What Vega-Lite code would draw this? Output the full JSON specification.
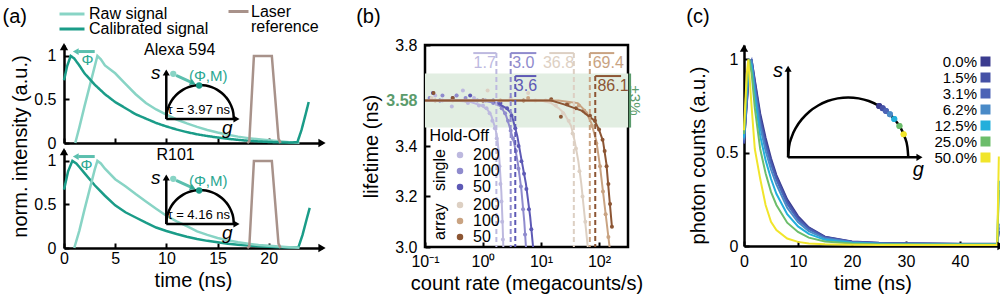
{
"$schema": "https://vega.github.io/schema/vega-lite/v6.json",
"padding": {"left": 2, "top": 0, "right": 0, "bottom": 0},
"bounds": "flush",
"spacing": 361,
"config": {
  "font": "Liberation Sans",
  "view": {"stroke": null},
  "axis": {"grid": false, "domainColor": "black", "domainWidth": 2.5, "tickColor": "black", "tickWidth": 2, "tickSize": -5, "labelColor": "black", "labelFontSize": 16, "titleColor": "black", "titleFontSize": 20, "titleFontWeight": "normal", "labelFlush": false, "labelPadding": 12},
  "legend": {"labelFontSize": 16, "labelColor": "black", "padding": 0}
},
"resolve": {"scale": {"color": "independent", "fill": "independent", "stroke": "independent", "strokeDash": "independent"}, "legend": {"color": "independent", "fill": "independent", "stroke": "independent", "strokeDash": "independent"}},
"datasets": {
  "sigA": [
    {"dye":"Alexa 594","signal":"Calibrated signal","t":0,"v":0.72},{"dye":"Alexa 594","signal":"Calibrated signal","t":0.3,"v":0.88},{"dye":"Alexa 594","signal":"Calibrated signal","t":0.65,"v":1.0},{"dye":"Alexa 594","signal":"Calibrated signal","t":1,"v":0.97},{"dye":"Alexa 594","signal":"Calibrated signal","t":1.5,"v":0.89},{"dye":"Alexa 594","signal":"Calibrated signal","t":2,"v":0.8},{"dye":"Alexa 594","signal":"Calibrated signal","t":3,"v":0.67},{"dye":"Alexa 594","signal":"Calibrated signal","t":4,"v":0.56},{"dye":"Alexa 594","signal":"Calibrated signal","t":5,"v":0.47},{"dye":"Alexa 594","signal":"Calibrated signal","t":6,"v":0.4},{"dye":"Alexa 594","signal":"Calibrated signal","t":7,"v":0.33},{"dye":"Alexa 594","signal":"Calibrated signal","t":8,"v":0.28},{"dye":"Alexa 594","signal":"Calibrated signal","t":9,"v":0.23},{"dye":"Alexa 594","signal":"Calibrated signal","t":10,"v":0.19},{"dye":"Alexa 594","signal":"Calibrated signal","t":11,"v":0.155},{"dye":"Alexa 594","signal":"Calibrated signal","t":12,"v":0.125},{"dye":"Alexa 594","signal":"Calibrated signal","t":13,"v":0.1},{"dye":"Alexa 594","signal":"Calibrated signal","t":14,"v":0.08},{"dye":"Alexa 594","signal":"Calibrated signal","t":15,"v":0.063},{"dye":"Alexa 594","signal":"Calibrated signal","t":16,"v":0.048},{"dye":"Alexa 594","signal":"Calibrated signal","t":17,"v":0.036},{"dye":"Alexa 594","signal":"Calibrated signal","t":18,"v":0.026},{"dye":"Alexa 594","signal":"Calibrated signal","t":19,"v":0.018},{"dye":"Alexa 594","signal":"Calibrated signal","t":20,"v":0.012},{"dye":"Alexa 594","signal":"Calibrated signal","t":21,"v":0.007},{"dye":"Alexa 594","signal":"Calibrated signal","t":22,"v":0.004},{"dye":"Alexa 594","signal":"Calibrated signal","t":22.8,"v":0.01},{"dye":"Alexa 594","signal":"Calibrated signal","t":23.2,"v":0.15},{"dye":"Alexa 594","signal":"Calibrated signal","t":23.6,"v":0.33},{"dye":"Alexa 594","signal":"Calibrated signal","t":23.9,"v":0.47},
    {"dye":"Alexa 594","signal":"Raw signal","t":1.1,"v":0},{"dye":"Alexa 594","signal":"Raw signal","t":1.5,"v":0.18},{"dye":"Alexa 594","signal":"Raw signal","t":2,"v":0.42},{"dye":"Alexa 594","signal":"Raw signal","t":2.5,"v":0.65},{"dye":"Alexa 594","signal":"Raw signal","t":3,"v":0.88},{"dye":"Alexa 594","signal":"Raw signal","t":3.26,"v":1.0},{"dye":"Alexa 594","signal":"Raw signal","t":3.6,"v":0.96},{"dye":"Alexa 594","signal":"Raw signal","t":4,"v":0.89},{"dye":"Alexa 594","signal":"Raw signal","t":5,"v":0.8},{"dye":"Alexa 594","signal":"Raw signal","t":6,"v":0.68},{"dye":"Alexa 594","signal":"Raw signal","t":7,"v":0.56},{"dye":"Alexa 594","signal":"Raw signal","t":8,"v":0.46},{"dye":"Alexa 594","signal":"Raw signal","t":9,"v":0.385},{"dye":"Alexa 594","signal":"Raw signal","t":10,"v":0.325},{"dye":"Alexa 594","signal":"Raw signal","t":11,"v":0.27},{"dye":"Alexa 594","signal":"Raw signal","t":12,"v":0.225},{"dye":"Alexa 594","signal":"Raw signal","t":13,"v":0.185},{"dye":"Alexa 594","signal":"Raw signal","t":14,"v":0.15},{"dye":"Alexa 594","signal":"Raw signal","t":15,"v":0.12},{"dye":"Alexa 594","signal":"Raw signal","t":16,"v":0.095},{"dye":"Alexa 594","signal":"Raw signal","t":17,"v":0.073},{"dye":"Alexa 594","signal":"Raw signal","t":18,"v":0.056},{"dye":"Alexa 594","signal":"Raw signal","t":19,"v":0.043},{"dye":"Alexa 594","signal":"Raw signal","t":20,"v":0.032},{"dye":"Alexa 594","signal":"Raw signal","t":21,"v":0.02},{"dye":"Alexa 594","signal":"Raw signal","t":22,"v":0.01},{"dye":"Alexa 594","signal":"Raw signal","t":23,"v":0.004},
    {"dye":"Alexa 594","signal":"Laser reference","t":17.9,"v":0},{"dye":"Alexa 594","signal":"Laser reference","t":18.1,"v":0.02},{"dye":"Alexa 594","signal":"Laser reference","t":18.55,"v":1.0},{"dye":"Alexa 594","signal":"Laser reference","t":20.3,"v":1.0},{"dye":"Alexa 594","signal":"Laser reference","t":20.95,"v":0.05},{"dye":"Alexa 594","signal":"Laser reference","t":21.15,"v":0},
    {"dye":"R101","signal":"Calibrated signal","t":0,"v":0.67},{"dye":"R101","signal":"Calibrated signal","t":0.4,"v":0.88},{"dye":"R101","signal":"Calibrated signal","t":0.82,"v":1.0},{"dye":"R101","signal":"Calibrated signal","t":1.2,"v":0.97},{"dye":"R101","signal":"Calibrated signal","t":1.5,"v":0.93},{"dye":"R101","signal":"Calibrated signal","t":2,"v":0.86},{"dye":"R101","signal":"Calibrated signal","t":3,"v":0.72},{"dye":"R101","signal":"Calibrated signal","t":4,"v":0.6},{"dye":"R101","signal":"Calibrated signal","t":5,"v":0.49},{"dye":"R101","signal":"Calibrated signal","t":6,"v":0.41},{"dye":"R101","signal":"Calibrated signal","t":7,"v":0.35},{"dye":"R101","signal":"Calibrated signal","t":8,"v":0.29},{"dye":"R101","signal":"Calibrated signal","t":9,"v":0.235},{"dye":"R101","signal":"Calibrated signal","t":10,"v":0.195},{"dye":"R101","signal":"Calibrated signal","t":11,"v":0.16},{"dye":"R101","signal":"Calibrated signal","t":12,"v":0.13},{"dye":"R101","signal":"Calibrated signal","t":13,"v":0.103},{"dye":"R101","signal":"Calibrated signal","t":14,"v":0.082},{"dye":"R101","signal":"Calibrated signal","t":15,"v":0.065},{"dye":"R101","signal":"Calibrated signal","t":16,"v":0.05},{"dye":"R101","signal":"Calibrated signal","t":17,"v":0.038},{"dye":"R101","signal":"Calibrated signal","t":18,"v":0.028},{"dye":"R101","signal":"Calibrated signal","t":19,"v":0.02},{"dye":"R101","signal":"Calibrated signal","t":20,"v":0.013},{"dye":"R101","signal":"Calibrated signal","t":21,"v":0.008},{"dye":"R101","signal":"Calibrated signal","t":22,"v":0.005},{"dye":"R101","signal":"Calibrated signal","t":22.9,"v":0.01},{"dye":"R101","signal":"Calibrated signal","t":23.3,"v":0.15},{"dye":"R101","signal":"Calibrated signal","t":23.7,"v":0.33},{"dye":"R101","signal":"Calibrated signal","t":24.0,"v":0.46},
    {"dye":"R101","signal":"Raw signal","t":1.0,"v":0},{"dye":"R101","signal":"Raw signal","t":1.5,"v":0.2},{"dye":"R101","signal":"Raw signal","t":2,"v":0.44},{"dye":"R101","signal":"Raw signal","t":2.5,"v":0.67},{"dye":"R101","signal":"Raw signal","t":3,"v":0.9},{"dye":"R101","signal":"Raw signal","t":3.26,"v":1.0},{"dye":"R101","signal":"Raw signal","t":3.6,"v":0.97},{"dye":"R101","signal":"Raw signal","t":4,"v":0.91},{"dye":"R101","signal":"Raw signal","t":5,"v":0.79},{"dye":"R101","signal":"Raw signal","t":6,"v":0.71},{"dye":"R101","signal":"Raw signal","t":7,"v":0.62},{"dye":"R101","signal":"Raw signal","t":8,"v":0.535},{"dye":"R101","signal":"Raw signal","t":9,"v":0.45},{"dye":"R101","signal":"Raw signal","t":10,"v":0.37},{"dye":"R101","signal":"Raw signal","t":11,"v":0.305},{"dye":"R101","signal":"Raw signal","t":12,"v":0.25},{"dye":"R101","signal":"Raw signal","t":13,"v":0.19},{"dye":"R101","signal":"Raw signal","t":14,"v":0.15},{"dye":"R101","signal":"Raw signal","t":15,"v":0.115},{"dye":"R101","signal":"Raw signal","t":16,"v":0.088},{"dye":"R101","signal":"Raw signal","t":17,"v":0.065},{"dye":"R101","signal":"Raw signal","t":18,"v":0.048},{"dye":"R101","signal":"Raw signal","t":19,"v":0.035},{"dye":"R101","signal":"Raw signal","t":20,"v":0.025},{"dye":"R101","signal":"Raw signal","t":21,"v":0.016},{"dye":"R101","signal":"Raw signal","t":22,"v":0.009},{"dye":"R101","signal":"Raw signal","t":23,"v":0.004},
    {"dye":"R101","signal":"Laser reference","t":17.9,"v":0},{"dye":"R101","signal":"Laser reference","t":18.1,"v":0.02},{"dye":"R101","signal":"Laser reference","t":18.55,"v":1.0},{"dye":"R101","signal":"Laser reference","t":20.3,"v":1.0},{"dye":"R101","signal":"Laser reference","t":20.95,"v":0.05},{"dye":"R101","signal":"Laser reference","t":21.15,"v":0}
  ],
  "semiA": [
    {"t":16.59,"v":0.275},{"t":16.54,"v":0.343},{"t":16.39,"v":0.408},{"t":16.15,"v":0.47},{"t":15.82,"v":0.526},{"t":15.41,"v":0.574},{"t":14.94,"v":0.613},{"t":14.42,"v":0.642},{"t":13.86,"v":0.659},{"t":13.29,"v":0.665},{"t":12.72,"v":0.659},{"t":12.16,"v":0.642},{"t":11.64,"v":0.613},{"t":11.17,"v":0.574},{"t":10.76,"v":0.526},{"t":10.43,"v":0.47},{"t":10.19,"v":0.408},{"t":10.04,"v":0.343},{"t":9.99,"v":0.275}
  ],
  "bfit": [
    {"series":"single 200","rate":0.1,"lifetime":3.58},{"series":"single 200","rate":0.3,"lifetime":3.58},{"series":"single 200","rate":0.6,"lifetime":3.575},{"series":"single 200","rate":0.94,"lifetime":3.56},{"series":"single 200","rate":1.19,"lifetime":3.545},{"series":"single 200","rate":1.39,"lifetime":3.52},{"series":"single 200","rate":1.63,"lifetime":3.47},{"series":"single 200","rate":1.77,"lifetime":3.43},{"series":"single 200","rate":1.91,"lifetime":3.35},{"series":"single 200","rate":2.07,"lifetime":3.22},{"series":"single 200","rate":2.17,"lifetime":3.1},{"series":"single 200","rate":2.24,"lifetime":3.0},
    {"series":"single 100","rate":0.1,"lifetime":3.58},{"series":"single 100","rate":1.0,"lifetime":3.58},{"series":"single 100","rate":1.63,"lifetime":3.57},{"series":"single 100","rate":2.07,"lifetime":3.555},{"series":"single 100","rate":2.5,"lifetime":3.52},{"series":"single 100","rate":2.84,"lifetime":3.48},{"series":"single 100","rate":3.46,"lifetime":3.41},{"series":"single 100","rate":4.0,"lifetime":3.33},{"series":"single 100","rate":4.57,"lifetime":3.23},{"series":"single 100","rate":5.15,"lifetime":3.1},{"series":"single 100","rate":5.5,"lifetime":3.0},
    {"series":"single 50","rate":0.1,"lifetime":3.58},{"series":"single 50","rate":1.5,"lifetime":3.58},{"series":"single 50","rate":2.5,"lifetime":3.55},{"series":"single 50","rate":3.07,"lifetime":3.53},{"series":"single 50","rate":3.9,"lifetime":3.44},{"series":"single 50","rate":4.57,"lifetime":3.35},{"series":"single 50","rate":5.5,"lifetime":3.25},{"series":"single 50","rate":6.5,"lifetime":3.12},{"series":"single 50","rate":7.3,"lifetime":3.0},
    {"series":"array 200","rate":0.1,"lifetime":3.58},{"series":"array 200","rate":10,"lifetime":3.58},{"series":"array 200","rate":15,"lifetime":3.57},{"series":"array 200","rate":20,"lifetime":3.55},{"series":"array 200","rate":25,"lifetime":3.53},{"series":"array 200","rate":33,"lifetime":3.48},{"series":"array 200","rate":38,"lifetime":3.42},{"series":"array 200","rate":44,"lifetime":3.34},{"series":"array 200","rate":49.5,"lifetime":3.25},{"series":"array 200","rate":56,"lifetime":3.13},{"series":"array 200","rate":64,"lifetime":3.0},
    {"series":"array 100","rate":0.1,"lifetime":3.58},{"series":"array 100","rate":20,"lifetime":3.58},{"series":"array 100","rate":43,"lifetime":3.57},{"series":"array 100","rate":60,"lifetime":3.535},{"series":"array 100","rate":74,"lifetime":3.49},{"series":"array 100","rate":90,"lifetime":3.42},{"series":"array 100","rate":104,"lifetime":3.32},{"series":"array 100","rate":117,"lifetime":3.22},{"series":"array 100","rate":135,"lifetime":3.1},{"series":"array 100","rate":152,"lifetime":3.0},
    {"series":"array 50","rate":0.1,"lifetime":3.58},{"series":"array 50","rate":15,"lifetime":3.58},{"series":"array 50","rate":25,"lifetime":3.565},{"series":"array 50","rate":50,"lifetime":3.54},{"series":"array 50","rate":84,"lifetime":3.5},{"series":"array 50","rate":100,"lifetime":3.465},{"series":"array 50","rate":117,"lifetime":3.42},{"series":"array 50","rate":134,"lifetime":3.33},{"series":"array 50","rate":150,"lifetime":3.2},{"series":"array 50","rate":167,"lifetime":3.08}
  ],
  "bpts": [
    {"series":"single 200","rate":0.15,"lifetime":3.6},{"series":"single 200","rate":0.2,"lifetime":3.58},{"series":"single 200","rate":0.29,"lifetime":3.556},{"series":"single 200","rate":0.35,"lifetime":3.6},{"series":"single 200","rate":0.45,"lifetime":3.62},{"series":"single 200","rate":0.55,"lifetime":3.57},{"series":"single 200","rate":0.7,"lifetime":3.59},{"series":"single 200","rate":0.85,"lifetime":3.56},{"series":"single 200","rate":1.0,"lifetime":3.56},{"series":"single 200","rate":1.15,"lifetime":3.55},{"series":"single 200","rate":1.3,"lifetime":3.53},{"series":"single 200","rate":1.45,"lifetime":3.5},{"series":"single 200","rate":1.6,"lifetime":3.47},{"series":"single 200","rate":1.72,"lifetime":3.43},{"series":"single 200","rate":1.82,"lifetime":3.38},{"series":"single 200","rate":1.92,"lifetime":3.32},{"series":"single 200","rate":2.0,"lifetime":3.25},{"series":"single 200","rate":2.08,"lifetime":3.18},{"series":"single 200","rate":2.14,"lifetime":3.1},{"series":"single 200","rate":2.2,"lifetime":3.03},
    {"series":"single 100","rate":0.12,"lifetime":3.59},{"series":"single 100","rate":0.2,"lifetime":3.6},{"series":"single 100","rate":0.35,"lifetime":3.6},{"series":"single 100","rate":0.5,"lifetime":3.59},{"series":"single 100","rate":0.8,"lifetime":3.58},{"series":"single 100","rate":1.1,"lifetime":3.58},{"series":"single 100","rate":1.5,"lifetime":3.57},{"series":"single 100","rate":1.8,"lifetime":3.565},{"series":"single 100","rate":2.1,"lifetime":3.55},{"series":"single 100","rate":2.4,"lifetime":3.53},{"series":"single 100","rate":2.7,"lifetime":3.5},{"series":"single 100","rate":3.0,"lifetime":3.46},{"series":"single 100","rate":3.3,"lifetime":3.43},{"series":"single 100","rate":3.7,"lifetime":3.38},{"series":"single 100","rate":4.1,"lifetime":3.31},{"series":"single 100","rate":4.5,"lifetime":3.24},{"series":"single 100","rate":4.9,"lifetime":3.15},{"series":"single 100","rate":5.3,"lifetime":3.05},
    {"series":"single 50","rate":0.137,"lifetime":3.61},{"series":"single 50","rate":0.18,"lifetime":3.58},{"series":"single 50","rate":0.3,"lifetime":3.59},{"series":"single 50","rate":0.6,"lifetime":3.6},{"series":"single 50","rate":1.0,"lifetime":3.58},{"series":"single 50","rate":1.5,"lifetime":3.58},{"series":"single 50","rate":2.0,"lifetime":3.57},{"series":"single 50","rate":2.6,"lifetime":3.55},{"series":"single 50","rate":3.1,"lifetime":3.52},{"series":"single 50","rate":3.6,"lifetime":3.47},{"series":"single 50","rate":4.1,"lifetime":3.4},{"series":"single 50","rate":4.6,"lifetime":3.34},{"series":"single 50","rate":5.1,"lifetime":3.29},{"series":"single 50","rate":5.6,"lifetime":3.23},{"series":"single 50","rate":6.2,"lifetime":3.15},{"series":"single 50","rate":6.8,"lifetime":3.07},
    {"series":"array 200","rate":0.13,"lifetime":3.59},{"series":"array 200","rate":0.3,"lifetime":3.58},{"series":"array 200","rate":1.0,"lifetime":3.58},{"series":"array 200","rate":1.2,"lifetime":3.62},{"series":"array 200","rate":3.0,"lifetime":3.59},{"series":"array 200","rate":6.0,"lifetime":3.61},{"series":"array 200","rate":8,"lifetime":3.58},{"series":"array 200","rate":12,"lifetime":3.58},{"series":"array 200","rate":18,"lifetime":3.56},{"series":"array 200","rate":24,"lifetime":3.53},{"series":"array 200","rate":30,"lifetime":3.5},{"series":"array 200","rate":35,"lifetime":3.45},{"series":"array 200","rate":40,"lifetime":3.39},{"series":"array 200","rate":46,"lifetime":3.3},{"series":"array 200","rate":52,"lifetime":3.2},{"series":"array 200","rate":58,"lifetime":3.1},
    {"series":"array 100","rate":0.15,"lifetime":3.58},{"series":"array 100","rate":0.5,"lifetime":3.58},{"series":"array 100","rate":2,"lifetime":3.58},{"series":"array 100","rate":6,"lifetime":3.59},{"series":"array 100","rate":15,"lifetime":3.58},{"series":"array 100","rate":30,"lifetime":3.57},{"series":"array 100","rate":45,"lifetime":3.56},{"series":"array 100","rate":60,"lifetime":3.53},{"series":"array 100","rate":75,"lifetime":3.48},{"series":"array 100","rate":90,"lifetime":3.41},{"series":"array 100","rate":104,"lifetime":3.32},{"series":"array 100","rate":117,"lifetime":3.22},{"series":"array 100","rate":130,"lifetime":3.13},{"series":"array 100","rate":145,"lifetime":3.04},
    {"series":"array 50","rate":0.14,"lifetime":3.61},{"series":"array 50","rate":0.3,"lifetime":3.59},{"series":"array 50","rate":1,"lifetime":3.58},{"series":"array 50","rate":5,"lifetime":3.58},{"series":"array 50","rate":15,"lifetime":3.585},{"series":"array 50","rate":22,"lifetime":3.516},{"series":"array 50","rate":28,"lifetime":3.565},{"series":"array 50","rate":40,"lifetime":3.55},{"series":"array 50","rate":55,"lifetime":3.54},{"series":"array 50","rate":70,"lifetime":3.52},{"series":"array 50","rate":85,"lifetime":3.5},{"series":"array 50","rate":100,"lifetime":3.465},{"series":"array 50","rate":115,"lifetime":3.425},{"series":"array 50","rate":125,"lifetime":3.38},{"series":"array 50","rate":135,"lifetime":3.32},{"series":"array 50","rate":145,"lifetime":3.25},{"series":"array 50","rate":155,"lifetime":3.17},{"series":"array 50","rate":167,"lifetime":3.08}
  ],
  "thr": [
    {"series":"single 200","rate":1.7,"top":3.768,"edge":0.68,"tag_rate":1.07,"tag_lt":3.727,"tag":"1.7"},
    {"series":"single 100","rate":3.0,"top":3.768,"edge":8.3,"tag_rate":4.95,"tag_lt":3.727,"tag":"3.0"},
    {"series":"single 50","rate":3.6,"top":3.677,"edge":8.3,"tag_rate":5.5,"tag_lt":3.638,"tag":"3.6"},
    {"series":"array 200","rate":36.8,"top":3.768,"edge":13.9,"tag_rate":20,"tag_lt":3.727,"tag":"36.8"},
    {"series":"array 100","rate":69.4,"top":3.768,"edge":183,"tag_rate":144,"tag_lt":3.727,"tag":"69.4"},
    {"series":"array 50","rate":86.1,"top":3.677,"edge":240,"tag_rate":174,"tag_lt":3.638,"tag":"86.1"}
  ],
  "cdec": [
    {"pct":"0.0%","t":0,"v":0.55},{"pct":"0.0%","t":0.5,"v":0.75},{"pct":"0.0%","t":1,"v":0.95},{"pct":"0.0%","t":1.4,"v":1.0},{"pct":"0.0%","t":2,"v":0.89},{"pct":"0.0%","t":3,"v":0.71},{"pct":"0.0%","t":4,"v":0.58},{"pct":"0.0%","t":5,"v":0.47},{"pct":"0.0%","t":6,"v":0.38},{"pct":"0.0%","t":8,"v":0.25},{"pct":"0.0%","t":10,"v":0.16},{"pct":"0.0%","t":12,"v":0.1},{"pct":"0.0%","t":15,"v":0.05},{"pct":"0.0%","t":20,"v":0.024},{"pct":"0.0%","t":25,"v":0.017},{"pct":"0.0%","t":30,"v":0.015},{"pct":"0.0%","t":35,"v":0.013},{"pct":"0.0%","t":40,"v":0.012},{"pct":"0.0%","t":45,"v":0.012},{"pct":"0.0%","t":46.9,"v":0.012},{"pct":"0.0%","t":47.2,"v":0.08},
    {"pct":"1.5%","t":0,"v":0.55},{"pct":"1.5%","t":0.5,"v":0.76},{"pct":"1.5%","t":1,"v":0.96},{"pct":"1.5%","t":1.4,"v":1.0},{"pct":"1.5%","t":2,"v":0.88},{"pct":"1.5%","t":3,"v":0.69},{"pct":"1.5%","t":4,"v":0.56},{"pct":"1.5%","t":5,"v":0.455},{"pct":"1.5%","t":6,"v":0.37},{"pct":"1.5%","t":8,"v":0.24},{"pct":"1.5%","t":10,"v":0.152},{"pct":"1.5%","t":12,"v":0.097},{"pct":"1.5%","t":15,"v":0.048},{"pct":"1.5%","t":20,"v":0.023},{"pct":"1.5%","t":25,"v":0.016},{"pct":"1.5%","t":30,"v":0.014},{"pct":"1.5%","t":35,"v":0.012},{"pct":"1.5%","t":40,"v":0.011},{"pct":"1.5%","t":45,"v":0.011},{"pct":"1.5%","t":46.9,"v":0.011},{"pct":"1.5%","t":47.2,"v":0.08},
    {"pct":"3.1%","t":0,"v":0.56},{"pct":"3.1%","t":0.5,"v":0.78},{"pct":"3.1%","t":1,"v":0.97},{"pct":"3.1%","t":1.4,"v":0.995},{"pct":"3.1%","t":2,"v":0.86},{"pct":"3.1%","t":3,"v":0.67},{"pct":"3.1%","t":4,"v":0.54},{"pct":"3.1%","t":5,"v":0.44},{"pct":"3.1%","t":6,"v":0.355},{"pct":"3.1%","t":8,"v":0.225},{"pct":"3.1%","t":10,"v":0.142},{"pct":"3.1%","t":12,"v":0.09},{"pct":"3.1%","t":15,"v":0.045},{"pct":"3.1%","t":20,"v":0.022},{"pct":"3.1%","t":25,"v":0.015},{"pct":"3.1%","t":30,"v":0.013},{"pct":"3.1%","t":35,"v":0.012},{"pct":"3.1%","t":40,"v":0.011},{"pct":"3.1%","t":45,"v":0.011},{"pct":"3.1%","t":46.9,"v":0.011},{"pct":"3.1%","t":47.2,"v":0.1},
    {"pct":"6.2%","t":0,"v":0.57},{"pct":"6.2%","t":0.5,"v":0.8},{"pct":"6.2%","t":1,"v":0.98},{"pct":"6.2%","t":1.4,"v":0.99},{"pct":"6.2%","t":2,"v":0.84},{"pct":"6.2%","t":3,"v":0.64},{"pct":"6.2%","t":4,"v":0.51},{"pct":"6.2%","t":5,"v":0.41},{"pct":"6.2%","t":6,"v":0.33},{"pct":"6.2%","t":8,"v":0.205},{"pct":"6.2%","t":10,"v":0.128},{"pct":"6.2%","t":12,"v":0.08},{"pct":"6.2%","t":15,"v":0.04},{"pct":"6.2%","t":20,"v":0.02},{"pct":"6.2%","t":25,"v":0.014},{"pct":"6.2%","t":30,"v":0.012},{"pct":"6.2%","t":35,"v":0.011},{"pct":"6.2%","t":40,"v":0.01},{"pct":"6.2%","t":45,"v":0.01},{"pct":"6.2%","t":46.9,"v":0.01},{"pct":"6.2%","t":47.2,"v":0.12},
    {"pct":"12.5%","t":0,"v":0.58},{"pct":"12.5%","t":0.5,"v":0.83},{"pct":"12.5%","t":1,"v":0.99},{"pct":"12.5%","t":1.4,"v":0.97},{"pct":"12.5%","t":2,"v":0.8},{"pct":"12.5%","t":3,"v":0.59},{"pct":"12.5%","t":4,"v":0.46},{"pct":"12.5%","t":5,"v":0.36},{"pct":"12.5%","t":6,"v":0.28},{"pct":"12.5%","t":8,"v":0.17},{"pct":"12.5%","t":10,"v":0.105},{"pct":"12.5%","t":12,"v":0.065},{"pct":"12.5%","t":15,"v":0.033},{"pct":"12.5%","t":20,"v":0.017},{"pct":"12.5%","t":25,"v":0.012},{"pct":"12.5%","t":30,"v":0.01},{"pct":"12.5%","t":35,"v":0.009},{"pct":"12.5%","t":40,"v":0.009},{"pct":"12.5%","t":45,"v":0.009},{"pct":"12.5%","t":46.9,"v":0.009},{"pct":"12.5%","t":47.2,"v":0.35},
    {"pct":"25.0%","t":0,"v":0.6},{"pct":"25.0%","t":0.5,"v":0.87},{"pct":"25.0%","t":1,"v":1.0},{"pct":"25.0%","t":1.4,"v":0.93},{"pct":"25.0%","t":2,"v":0.74},{"pct":"25.0%","t":3,"v":0.52},{"pct":"25.0%","t":4,"v":0.39},{"pct":"25.0%","t":5,"v":0.29},{"pct":"25.0%","t":6,"v":0.22},{"pct":"25.0%","t":8,"v":0.125},{"pct":"25.0%","t":10,"v":0.075},{"pct":"25.0%","t":12,"v":0.045},{"pct":"25.0%","t":15,"v":0.024},{"pct":"25.0%","t":20,"v":0.013},{"pct":"25.0%","t":25,"v":0.01},{"pct":"25.0%","t":30,"v":0.009},{"pct":"25.0%","t":35,"v":0.008},{"pct":"25.0%","t":40,"v":0.008},{"pct":"25.0%","t":45,"v":0.008},{"pct":"25.0%","t":46.9,"v":0.008},{"pct":"25.0%","t":47.2,"v":0.3},
    {"pct":"50.0%","t":0,"v":0.62},{"pct":"50.0%","t":0.5,"v":0.92},{"pct":"50.0%","t":0.8,"v":1.0},{"pct":"50.0%","t":1.4,"v":0.75},{"pct":"50.0%","t":2,"v":0.52},{"pct":"50.0%","t":3,"v":0.36},{"pct":"50.0%","t":4,"v":0.22},{"pct":"50.0%","t":5,"v":0.13},{"pct":"50.0%","t":6,"v":0.085},{"pct":"50.0%","t":8,"v":0.04},{"pct":"50.0%","t":10,"v":0.022},{"pct":"50.0%","t":12,"v":0.014},{"pct":"50.0%","t":15,"v":0.01},{"pct":"50.0%","t":20,"v":0.007},{"pct":"50.0%","t":25,"v":0.006},{"pct":"50.0%","t":30,"v":0.006},{"pct":"50.0%","t":35,"v":0.006},{"pct":"50.0%","t":40,"v":0.006},{"pct":"50.0%","t":45,"v":0.006},{"pct":"50.0%","t":46.9,"v":0.006},{"pct":"50.0%","t":47.2,"v":0.48}
  ],
  "semiC": [
    {"t":30.43,"v":0.475},{"t":30.26,"v":0.531},{"t":29.76,"v":0.585},{"t":28.94,"v":0.636},{"t":27.83,"v":0.681},{"t":26.46,"v":0.721},{"t":24.87,"v":0.753},{"t":23.11,"v":0.777},{"t":21.24,"v":0.791},{"t":19.3,"v":0.796},{"t":17.36,"v":0.791},{"t":15.49,"v":0.777},{"t":13.74,"v":0.753},{"t":12.14,"v":0.721},{"t":10.77,"v":0.681},{"t":9.66,"v":0.636},{"t":8.84,"v":0.585},{"t":8.34,"v":0.531},{"t":8.17,"v":0.475}
  ],
  "cdots": [
    {"pct":"0.0%","t":25.03,"v":0.75},{"pct":"1.5%","t":25.69,"v":0.738},{"pct":"3.1%","t":26.3,"v":0.724},{"pct":"6.2%","t":27.03,"v":0.706},{"pct":"12.5%","t":27.83,"v":0.681},{"pct":"25.0%","t":28.79,"v":0.643},{"pct":"50.0%","t":29.57,"v":0.599}
  ]
},
"hconcat": [
  {"vconcat": [
    {"width": 258, "height": 98,
     "layer": [
      {"data": {"name": "sigA"}, "transform": [{"filter": "datum.dye === 'Alexa 594' && datum.signal === 'Raw signal'"}],
       "mark": {"type": "line", "strokeWidth": 2.5},
       "encoding": {
        "x": {"field": "t", "type": "quantitative", "scale": {"domain": [0, 25.2], "nice": false}, "axis": {"values": [0,5,10,15,20], "labels": false, "title": null}},
        "y": {"field": "v", "type": "quantitative", "scale": {"domain": [0, 1.125], "nice": false}, "axis": {"values": [0,0.5,1], "format": "~g", "labelPadding": 13, "title": "norm. intensity (a.u.)", "titleX": -44, "titleY": 101, "titleBaseline": "middle"}},
        "color": {"field": "signal", "type": "nominal", "scale": {"domain": ["Raw signal"], "range": ["#88d4c5"]}, "legend": {"orient": "none", "legendX": -6, "legendY": -45, "title": null, "symbolType": "stroke", "symbolSize": 625, "symbolStrokeWidth": 3, "labelOffset": 3, "labelFontSize": 16}}
       }},
      {"data": {"name": "sigA"}, "transform": [{"filter": "datum.dye === 'Alexa 594' && datum.signal === 'Calibrated signal'"}],
       "mark": {"type": "line", "strokeWidth": 2.5, "color": "#1a9c88"},
       "encoding": {
        "x": {"field": "t", "type": "quantitative"},
        "y": {"field": "v", "type": "quantitative"},
        "strokeDash": {"field": "signal", "type": "nominal", "scale": {"domain": ["Calibrated signal"], "range": [[1, 0]]}, "legend": {"orient": "none", "legendX": -6, "legendY": -30, "title": null, "symbolType": "stroke", "symbolSize": 625, "symbolStrokeWidth": 3, "symbolStrokeColor": "#1a9c88", "labelOffset": 3, "labelFontSize": 16}}
       }},
      {"data": {"name": "sigA"}, "transform": [{"filter": "datum.dye === 'Alexa 594' && datum.signal === 'Laser reference'"}],
       "mark": {"type": "line", "strokeWidth": 2.5},
       "encoding": {
        "x": {"field": "t", "type": "quantitative"},
        "y": {"field": "v", "type": "quantitative"},
        "stroke": {"field": "signal", "type": "nominal", "scale": {"domain": ["Laser reference"], "range": ["#a8928a"]}, "legend": {"orient": "none", "legendX": 163, "legendY": -45, "title": null, "symbolType": "stroke", "symbolSize": 400, "symbolStrokeWidth": 3, "labelOffset": 1, "labelFontSize": 16, "labelExpr": "['Laser', 'reference']", "labelBaseline": "middle", "encode": {"labels": {"update": {"lineHeight": {"value": 15}}}}}}
       }},
      {"data": {"name": "semiA"}, "mark": {"type": "line", "color": "black", "strokeWidth": 2.5, "interpolate": "monotone"}, "encoding": {"x": {"field": "t", "type": "quantitative"}, "y": {"field": "v", "type": "quantitative"}}},
      {"data": {"values": [{}]}, "mark": {"type": "rule", "color": "black", "strokeWidth": 2.5}, "encoding": {"x": {"datum": 9.99}, "y": {"datum": 0.275}, "y2": {"datum": 0.8}}},
      {"data": {"values": [{}]}, "mark": {"type": "rule", "color": "black", "strokeWidth": 2.5}, "encoding": {"x": {"datum": 9.99}, "x2": {"datum": 16.7}, "y": {"datum": 0.275}}},
      {"data": {"values": [{}]}, "mark": {"type": "point", "shape": "triangle-up", "filled": true, "color": "black", "size": 50, "opacity": 1}, "encoding": {"x": {"datum": 9.99}, "y": {"datum": 0.81}}},
      {"data": {"values": [{}]}, "mark": {"type": "point", "shape": "triangle-right", "filled": true, "color": "black", "size": 50, "opacity": 1}, "encoding": {"x": {"datum": 16.85}, "y": {"datum": 0.275}}},
      {"data": {"values": [{}]}, "mark": {"type": "point", "shape": "triangle-up", "filled": true, "color": "black", "size": 70, "opacity": 1}, "encoding": {"x": {"datum": 0}, "y": {"datum": 1.105}}},
      {"data": {"values": [{}]}, "mark": {"type": "point", "shape": "triangle-right", "filled": true, "color": "black", "size": 70, "opacity": 1}, "encoding": {"x": {"datum": 25.2}, "y": {"datum": 0}}},
      {"data": {"values": [{}]}, "mark": {"type": "rule", "color": "#5bbfae", "strokeWidth": 3}, "encoding": {"x": {"datum": 10.95}, "x2": {"datum": 12.4}, "y": {"datum": 0.775}, "y2": {"datum": 0.7}}},
      {"data": {"values": [{}]}, "mark": {"type": "point", "shape": "triangle-right", "filled": true, "color": "#3aae9a", "size": 45, "angle": 25, "opacity": 1}, "encoding": {"x": {"datum": 12.6}, "y": {"datum": 0.688}}},
      {"data": {"values": [{}]}, "mark": {"type": "point", "filled": true, "color": "#88d4c5", "size": 40, "opacity": 1}, "encoding": {"x": {"datum": 10.67}, "y": {"datum": 0.794}}},
      {"data": {"values": [{}]}, "mark": {"type": "point", "filled": true, "color": "#1a9c88", "size": 40, "opacity": 1}, "encoding": {"x": {"datum": 13.2}, "y": {"datum": 0.66}}},
      {"data": {"values": [{}]}, "mark": {"type": "rule", "color": "#5bbfae", "strokeWidth": 3}, "encoding": {"x": {"datum": 3.0}, "x2": {"datum": 1.4}, "y": {"datum": 1.05}}},
      {"data": {"values": [{}]}, "mark": {"type": "point", "shape": "triangle-left", "filled": true, "color": "#5bbfae", "size": 45, "opacity": 1}, "encoding": {"x": {"datum": 1.15}, "y": {"datum": 1.05}}},
      {"data": {"values": [{}]}, "mark": {"type": "text", "text": "Φ", "fontSize": 15, "color": "#2aa791", "align": "center", "baseline": "middle"}, "encoding": {"x": {"datum": 2.3}, "y": {"datum": 0.95}}},
      {"data": {"values": [{}]}, "mark": {"type": "text", "text": "(Φ,M)", "fontSize": 15, "color": "#2aa791", "align": "left", "baseline": "middle"}, "encoding": {"x": {"datum": 12.2}, "y": {"datum": 0.765}}},
      {"data": {"values": [{}]}, "mark": {"type": "text", "text": "τ = 3.97 ns", "fontSize": 13, "align": "left", "baseline": "middle"}, "encoding": {"x": {"datum": 10.1}, "y": {"datum": 0.38}}},
      {"data": {"values": [{}]}, "mark": {"type": "text", "text": "Alexa 594", "fontSize": 16, "align": "center", "baseline": "middle"}, "encoding": {"x": {"datum": 11.3}, "y": {"datum": 1.07}}},
      {"data": {"values": [{}]}, "mark": {"type": "text", "text": "s", "fontSize": 19, "fontStyle": "italic", "align": "center", "baseline": "middle"}, "encoding": {"x": {"datum": 8.95}, "y": {"datum": 0.8}}},
      {"data": {"values": [{}]}, "mark": {"type": "text", "text": "g", "fontSize": 19, "fontStyle": "italic", "align": "center", "baseline": "middle"}, "encoding": {"x": {"datum": 15.95}, "y": {"datum": 0.17}}},
      {"data": {"values": [{}]}, "mark": {"type": "text", "text": "(a)", "fontSize": 20, "align": "left", "baseline": "middle"}, "encoding": {"x": {"datum": -6.0}, "y": {"datum": 1.45}}}
     ]},
    {"width": 258, "height": 98,
     "layer": [
      {"data": {"name": "sigA"}, "transform": [{"filter": "datum.dye === 'R101' && datum.signal !== 'Laser reference'"}],
       "mark": {"type": "line", "strokeWidth": 2.5},
       "encoding": {
        "x": {"field": "t", "type": "quantitative", "scale": {"domain": [0, 25.2], "nice": false}, "axis": {"values": [0,5,10,15,20], "title": "time (ns)", "labelPadding": 7, "titlePadding": 4}},
        "y": {"field": "v", "type": "quantitative", "scale": {"domain": [0, 1.125], "nice": false}, "axis": {"values": [0,0.5,1], "format": "~g", "labelPadding": 13, "title": null}},
        "color": {"field": "signal", "type": "nominal", "scale": {"domain": ["Raw signal","Calibrated signal"], "range": ["#88d4c5","#1a9c88"]}, "legend": null}
       }},
      {"data": {"name": "sigA"}, "transform": [{"filter": "datum.dye === 'R101' && datum.signal === 'Laser reference'"}],
       "mark": {"type": "line", "strokeWidth": 2.5, "color": "#a8928a"},
       "encoding": {"x": {"field": "t", "type": "quantitative"}, "y": {"field": "v", "type": "quantitative"}}},
      {"data": {"name": "semiA"}, "mark": {"type": "line", "color": "black", "strokeWidth": 2.5, "interpolate": "monotone"}, "encoding": {"x": {"field": "t", "type": "quantitative"}, "y": {"field": "v", "type": "quantitative"}}},
      {"data": {"values": [{}]}, "mark": {"type": "rule", "color": "black", "strokeWidth": 2.5}, "encoding": {"x": {"datum": 9.99}, "y": {"datum": 0.275}, "y2": {"datum": 0.8}}},
      {"data": {"values": [{}]}, "mark": {"type": "rule", "color": "black", "strokeWidth": 2.5}, "encoding": {"x": {"datum": 9.99}, "x2": {"datum": 16.7}, "y": {"datum": 0.275}}},
      {"data": {"values": [{}]}, "mark": {"type": "point", "shape": "triangle-up", "filled": true, "color": "black", "size": 50, "opacity": 1}, "encoding": {"x": {"datum": 9.99}, "y": {"datum": 0.81}}},
      {"data": {"values": [{}]}, "mark": {"type": "point", "shape": "triangle-right", "filled": true, "color": "black", "size": 50, "opacity": 1}, "encoding": {"x": {"datum": 16.85}, "y": {"datum": 0.275}}},
      {"data": {"values": [{}]}, "mark": {"type": "point", "shape": "triangle-up", "filled": true, "color": "black", "size": 70, "opacity": 1}, "encoding": {"x": {"datum": 0}, "y": {"datum": 1.105}}},
      {"data": {"values": [{}]}, "mark": {"type": "point", "shape": "triangle-right", "filled": true, "color": "black", "size": 70, "opacity": 1}, "encoding": {"x": {"datum": 25.2}, "y": {"datum": 0}}},
      {"data": {"values": [{}]}, "mark": {"type": "rule", "color": "#5bbfae", "strokeWidth": 3}, "encoding": {"x": {"datum": 10.95}, "x2": {"datum": 12.4}, "y": {"datum": 0.775}, "y2": {"datum": 0.7}}},
      {"data": {"values": [{}]}, "mark": {"type": "point", "shape": "triangle-right", "filled": true, "color": "#3aae9a", "size": 45, "angle": 25, "opacity": 1}, "encoding": {"x": {"datum": 12.6}, "y": {"datum": 0.688}}},
      {"data": {"values": [{}]}, "mark": {"type": "point", "filled": true, "color": "#88d4c5", "size": 40, "opacity": 1}, "encoding": {"x": {"datum": 10.67}, "y": {"datum": 0.794}}},
      {"data": {"values": [{}]}, "mark": {"type": "point", "filled": true, "color": "#1a9c88", "size": 40, "opacity": 1}, "encoding": {"x": {"datum": 13.2}, "y": {"datum": 0.66}}},
      {"data": {"values": [{}]}, "mark": {"type": "rule", "color": "#5bbfae", "strokeWidth": 3}, "encoding": {"x": {"datum": 3.0}, "x2": {"datum": 1.4}, "y": {"datum": 1.05}}},
      {"data": {"values": [{}]}, "mark": {"type": "point", "shape": "triangle-left", "filled": true, "color": "#5bbfae", "size": 45, "opacity": 1}, "encoding": {"x": {"datum": 1.15}, "y": {"datum": 1.05}}},
      {"data": {"values": [{}]}, "mark": {"type": "text", "text": "Φ", "fontSize": 15, "color": "#2aa791", "align": "center", "baseline": "middle"}, "encoding": {"x": {"datum": 2.2}, "y": {"datum": 0.955}}},
      {"data": {"values": [{}]}, "mark": {"type": "text", "text": "(Φ,M)", "fontSize": 15, "color": "#2aa791", "align": "left", "baseline": "middle"}, "encoding": {"x": {"datum": 12.2}, "y": {"datum": 0.765}}},
      {"data": {"values": [{}]}, "mark": {"type": "text", "text": "τ = 4.16 ns", "fontSize": 13, "align": "left", "baseline": "middle"}, "encoding": {"x": {"datum": 10.1}, "y": {"datum": 0.38}}},
      {"data": {"values": [{}]}, "mark": {"type": "text", "text": "R101", "fontSize": 16, "align": "center", "baseline": "middle"}, "encoding": {"x": {"datum": 10.9}, "y": {"datum": 1.07}}},
      {"data": {"values": [{}]}, "mark": {"type": "text", "text": "s", "fontSize": 19, "fontStyle": "italic", "align": "center", "baseline": "middle"}, "encoding": {"x": {"datum": 8.95}, "y": {"datum": 0.8}}},
      {"data": {"values": [{}]}, "mark": {"type": "text", "text": "g", "fontSize": 19, "fontStyle": "italic", "align": "center", "baseline": "middle"}, "encoding": {"x": {"datum": 15.95}, "y": {"datum": 0.17}}}
     ]}
  ], "spacing": 7, "bounds": "flush",
  "resolve": {"scale": {"color": "independent", "fill": "independent", "stroke": "independent", "strokeDash": "independent"}, "legend": {"color": "independent", "fill": "independent", "stroke": "independent", "strokeDash": "independent"}}},
  {"hconcat": [
    {"width": 203, "height": 202,
     "view": {"stroke": "black", "strokeWidth": 2.5},
     "layer": [
      {"data": {"values": [{}]}, "mark": {"type": "rect", "color": "#e2eee2"},
       "encoding": {
        "x": {"datum": 0.1, "type": "quantitative", "scale": {"type": "log", "domain": [0.1, 316], "nice": false}, "axis": {"values": [0.1,1,10,100], "labelExpr": "datum.value < 0.5 ? '10⁻¹' : datum.value < 5 ? '10⁰' : datum.value < 50 ? '10¹' : '10²'", "title": "count rate (megacounts/s)", "domain": false, "labelPadding": 11, "titlePadding": 4}},
        "x2": {"datum": 316},
        "y": {"datum": 3.473, "type": "quantitative", "scale": {"domain": [3.0, 3.8], "nice": false, "zero": false}, "axis": {"values": [3.0,3.2,3.4,3.58,3.8], "labelExpr": "datum.value === 3.58 ? '3.58' : format(datum.value, '.1f')", "labelColor": {"condition": {"test": "datum.value === 3.58", "value": "#5b9b6c"}, "value": "black"}, "labelFontWeight": {"condition": {"test": "datum.value === 3.58", "value": "bold"}, "value": "normal"}, "title": "lifetime (ns)", "domain": false, "labelPadding": 13}},
        "y2": {"datum": 3.687}
       }},
      {"data": {"name": "bpts"}, "transform": [{"filter": "indexof(datum.series, 'single') === 0"}],
       "mark": {"type": "point", "filled": true, "size": 16, "opacity": 1},
       "encoding": {"x": {"field": "rate", "type": "quantitative"}, "y": {"field": "lifetime", "type": "quantitative"},
        "color": {"field": "series", "type": "nominal", "scale": {"domain": ["single 200","single 100","single 50"], "range": ["#bdb9df","#8f8bcd","#5d59b5"]}, "legend": {"orient": "none", "legendX": 27, "legendY": 102, "title": null, "symbolType": "circle", "symbolSize": 25, "labelOffset": 5, "labelFontSize": 16, "rowPadding": -2, "labelExpr": "split(datum.label, ' ')[1]"}}}},
      {"data": {"name": "bpts"}, "transform": [{"filter": "indexof(datum.series, 'array') === 0"}],
       "mark": {"type": "point", "filled": true, "size": 16, "opacity": 1},
       "encoding": {"x": {"field": "rate", "type": "quantitative"}, "y": {"field": "lifetime", "type": "quantitative"},
        "fill": {"field": "series", "type": "nominal", "scale": {"domain": ["array 200","array 100","array 50"], "range": ["#ddd0c3","#c9a382","#8c5533"]}, "legend": {"orient": "none", "legendX": 27, "legendY": 152, "title": null, "symbolType": "circle", "symbolSize": 25, "labelOffset": 5, "labelFontSize": 16, "rowPadding": -2, "labelExpr": "split(datum.label, ' ')[1]"}}}},
      {"data": {"name": "bfit"}, "transform": [{"filter": "indexof(datum.series, 'single') === 0"}],
       "mark": {"type": "line", "strokeWidth": 2},
       "encoding": {"x": {"field": "rate", "type": "quantitative"}, "y": {"field": "lifetime", "type": "quantitative"}, "color": {"field": "series", "type": "nominal"}}},
      {"data": {"name": "bfit"}, "transform": [{"filter": "indexof(datum.series, 'array') === 0"}],
       "mark": {"type": "line", "strokeWidth": 2},
       "encoding": {"x": {"field": "rate", "type": "quantitative"}, "y": {"field": "lifetime", "type": "quantitative"}, "stroke": {"field": "series", "type": "nominal", "scale": {"domain": ["array 200","array 100","array 50"], "range": ["#ddd0c3","#c9a382","#8c5533"]}, "legend": null}}},
      {"data": {"name": "thr"}, "transform": [{"filter": "indexof(datum.series, 'single') === 0"}],
       "mark": {"type": "rule", "strokeWidth": 2, "strokeDash": [5, 3]},
       "encoding": {"x": {"field": "rate", "type": "quantitative"}, "y": {"field": "top", "type": "quantitative"}, "y2": {"datum": 3.0}, "color": {"field": "series", "type": "nominal"}}},
      {"data": {"name": "thr"}, "transform": [{"filter": "indexof(datum.series, 'array') === 0"}],
       "mark": {"type": "rule", "strokeWidth": 2, "strokeDash": [5, 3]},
       "encoding": {"x": {"field": "rate", "type": "quantitative"}, "y": {"field": "top", "type": "quantitative"}, "y2": {"datum": 3.0}, "stroke": {"field": "series", "type": "nominal"}}},
      {"data": {"name": "thr"}, "transform": [{"filter": "indexof(datum.series, 'single') === 0"}],
       "mark": {"type": "rule", "strokeWidth": 2},
       "encoding": {"x": {"field": "rate", "type": "quantitative"}, "x2": {"field": "edge"}, "y": {"field": "top", "type": "quantitative"}, "color": {"field": "series", "type": "nominal"}}},
      {"data": {"name": "thr"}, "transform": [{"filter": "indexof(datum.series, 'array') === 0"}],
       "mark": {"type": "rule", "strokeWidth": 2},
       "encoding": {"x": {"field": "rate", "type": "quantitative"}, "x2": {"field": "edge"}, "y": {"field": "top", "type": "quantitative"}, "stroke": {"field": "series", "type": "nominal"}}},
      {"data": {"name": "thr"}, "transform": [{"filter": "indexof(datum.series, 'single') === 0"}],
       "mark": {"type": "text", "fontSize": 16, "align": "center", "baseline": "middle"},
       "encoding": {"x": {"field": "tag_rate", "type": "quantitative"}, "y": {"field": "tag_lt", "type": "quantitative"}, "text": {"field": "tag"}, "color": {"field": "series", "type": "nominal"}}},
      {"data": {"name": "thr"}, "transform": [{"filter": "indexof(datum.series, 'array') === 0"}],
       "mark": {"type": "text", "fontSize": 16, "align": "center", "baseline": "middle"},
       "encoding": {"x": {"field": "tag_rate", "type": "quantitative"}, "y": {"field": "tag_lt", "type": "quantitative"}, "text": {"field": "tag"}, "fill": {"field": "series", "type": "nominal"}}},
      {"data": {"values": [{}]}, "mark": {"type": "rule", "color": "#5b9b6c", "strokeWidth": 2.5}, "encoding": {"x": {"datum": 340}, "y": {"datum": 3.473}, "y2": {"datum": 3.687}}},
      {"data": {"values": [{}]}, "mark": {"type": "text", "text": "±3%", "fontSize": 15, "color": "#5b9b6c", "angle": 90, "align": "center", "baseline": "middle"}, "encoding": {"x": {"datum": 420}, "y": {"datum": 3.58}}},
      {"data": {"values": [{}]}, "mark": {"type": "text", "text": "Hold-Off", "fontSize": 16, "align": "left", "baseline": "middle"}, "encoding": {"x": {"datum": 0.12}, "y": {"datum": 3.44}}},
      {"data": {"values": [{}]}, "mark": {"type": "text", "text": "single", "fontSize": 16, "angle": 270, "align": "center", "baseline": "middle"}, "encoding": {"x": {"datum": 0.184}, "y": {"datum": 3.305}}},
      {"data": {"values": [{}]}, "mark": {"type": "text", "text": "array", "fontSize": 16, "angle": 270, "align": "center", "baseline": "middle"}, "encoding": {"x": {"datum": 0.184}, "y": {"datum": 3.1}}},
      {"data": {"values": [{}]}, "mark": {"type": "text", "text": "(b)", "fontSize": 20, "align": "left", "baseline": "middle"}, "encoding": {"x": {"datum": 0.0065}, "y": {"datum": 3.909}}}
     ]},
    {"width": 257, "height": 201,
     "layer": [
      {"data": {"name": "cdots"}, "mark": {"type": "point", "filled": true, "size": 36, "opacity": 1},
       "encoding": {"x": {"field": "t", "type": "quantitative", "scale": {"domain": [0, 47.6], "nice": false}, "axis": {"values": [0,10,20,30,40], "title": "time (ns)", "labelPadding": 12, "titlePadding": 4}},
        "y": {"field": "v", "type": "quantitative", "scale": {"domain": [0, 1.077], "nice": false}, "axis": {"values": [0,0.5,1], "format": "~g", "labelPadding": 11, "title": "photon counts (a.u.)", "titleX": -46, "titleY": 110, "titleBaseline": "middle"}},
        "fill": {"field": "pct", "type": "nominal", "scale": {"domain": ["0.0%","1.5%","3.1%","6.2%","12.5%","25.0%","50.0%"], "range": ["#3b3c8f","#4551a6","#4c63b6","#4a8ac7","#23afdb","#6cbd6b","#f1e52b"]}, "legend": {"orient": "none", "legendX": 234, "legendY": 9, "title": null, "symbolType": "square", "symbolSize": 72, "labelFontSize": 15, "labelAlign": "right", "labelOffset": -16, "rowPadding": 0, "encode": {"labels": {"update": {"lineHeight": {"value": 12}}}}}}}},
      {"data": {"name": "cdec"}, "mark": {"type": "line", "strokeWidth": 2},
       "encoding": {
        "x": {"field": "t", "type": "quantitative"},
        "y": {"field": "v", "type": "quantitative"},
        "stroke": {"field": "pct", "type": "nominal", "scale": {"domain": ["0.0%","1.5%","3.1%","6.2%","12.5%","25.0%","50.0%"], "range": ["#3b3c8f","#4551a6","#4c63b6","#4a8ac7","#23afdb","#6cbd6b","#f1e52b"]}, "legend": null}
       }},
      {"data": {"name": "semiC"}, "mark": {"type": "line", "color": "black", "strokeWidth": 2.5, "interpolate": "monotone"}, "encoding": {"x": {"field": "t", "type": "quantitative"}, "y": {"field": "v", "type": "quantitative"}}},
      {"data": {"values": [{}]}, "mark": {"type": "rule", "color": "black", "strokeWidth": 2.5}, "encoding": {"x": {"datum": 8.17}, "y": {"datum": 0.475}, "y2": {"datum": 0.94}}},
      {"data": {"values": [{}]}, "mark": {"type": "rule", "color": "black", "strokeWidth": 2.5}, "encoding": {"x": {"datum": 8.17}, "x2": {"datum": 32.2}, "y": {"datum": 0.475}}},
      {"data": {"values": [{}]}, "mark": {"type": "point", "shape": "triangle-up", "filled": true, "color": "black", "size": 50, "opacity": 1}, "encoding": {"x": {"datum": 8.17}, "y": {"datum": 0.95}}},
      {"data": {"values": [{}]}, "mark": {"type": "point", "shape": "triangle-right", "filled": true, "color": "black", "size": 50, "opacity": 1}, "encoding": {"x": {"datum": 32.5}, "y": {"datum": 0.475}}},
      {"data": {"values": [{}]}, "mark": {"type": "point", "shape": "triangle-up", "filled": true, "color": "black", "size": 70, "opacity": 1}, "encoding": {"x": {"datum": 0}, "y": {"datum": 1.06}}},
      {"data": {"values": [{}]}, "mark": {"type": "point", "shape": "triangle-right", "filled": true, "color": "black", "size": 70, "opacity": 1}, "encoding": {"x": {"datum": 47.6}, "y": {"datum": 0}}},
      {"data": {"name": "cdots"}, "mark": {"type": "point", "filled": true, "size": 36, "opacity": 1},
       "encoding": {"x": {"field": "t", "type": "quantitative"}, "y": {"field": "v", "type": "quantitative"}, "fill": {"field": "pct", "type": "nominal"}}},
      {"data": {"values": [{}]}, "mark": {"type": "text", "text": "s", "fontSize": 20, "fontStyle": "italic", "align": "center", "baseline": "middle"}, "encoding": {"x": {"datum": 6.3}, "y": {"datum": 0.94}}},
      {"data": {"values": [{}]}, "mark": {"type": "text", "text": "g", "fontSize": 20, "fontStyle": "italic", "align": "center", "baseline": "middle"}, "encoding": {"x": {"datum": 32.3}, "y": {"datum": 0.405}}},
      {"data": {"values": [{}]}, "mark": {"type": "text", "text": "(c)", "fontSize": 20, "align": "left", "baseline": "middle"}, "encoding": {"x": {"datum": -10.7}, "y": {"datum": 1.225}}}
     ]}
  ], "spacing": 116, "bounds": "flush",
  "resolve": {"scale": {"color": "independent", "fill": "independent", "stroke": "independent"}, "legend": {"color": "independent", "fill": "independent", "stroke": "independent"}}}
]
}
